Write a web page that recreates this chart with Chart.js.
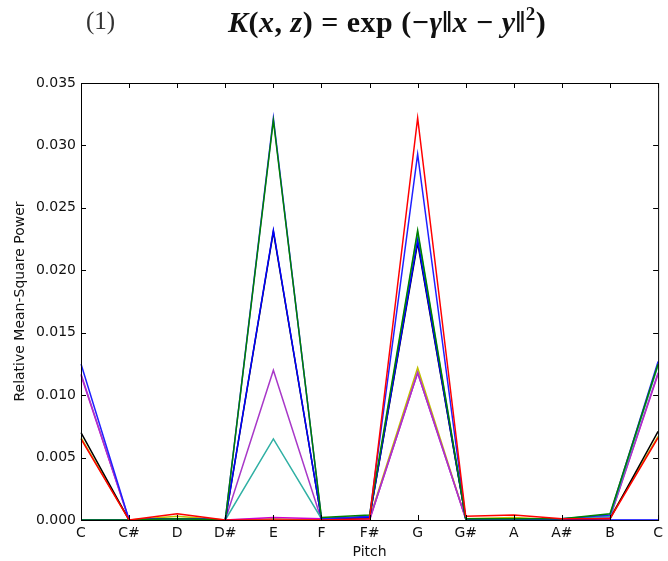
<!DOCTYPE html>
<html>
<head>
<meta charset="utf-8">
<script src="https://cdn.jsdelivr.net/npm/chart.js@4"></script>
<style>
  html, body { margin: 0; padding: 0; background: #fff; }
  #wrap { position: relative; width: 668px; height: 561px; }
  #num { position: absolute; left: 86px; top: 7px; font: 25px "Liberation Serif", serif; color: #333; }
  #formula { position: absolute; left: 228px; top: 3px; font: bold 30px "Liberation Serif", serif; color: #111; white-space: nowrap; letter-spacing: 0.5px; }
  #formula sup { font-size: 19px; vertical-align: 12px; }
</style>
</head>
<body>
<div id="wrap">
  <canvas id="line-chart" width="668" height="561"></canvas>
  <div id="num">(1)</div>
  <div id="formula"><i>K</i>(<i>x</i>, <i>z</i>) = exp (−<i>γ</i>‖<i>x</i> − <i>y</i>‖<sup>2</sup>)</div>
</div>
<script>
// pitch classes, C repeated at the octave
var pitches = ['C','C#','D','D#','E','F','F#','G','G#','A','A#','B','C'];

var redLine     = [0.0065,0,0.0005,0,0.0000,0.0000,0.0001,0.0322,0.0003,0.0004,0.0001,0.0001,0.0066];
var greenLine   = [0.0000,0,0.0001,0,0.0320,0.0002,0.0004,0.0232,0.0001,0.0001,0.0001,0.0005,0.0125];
var blueLine    = [0.0125,0,0.0001,0,0.0322,0.0001,0.0003,0.0293,0.0001,0.0001,0.0001,0.0004,0.0127];
var blue2Line   = [0.0000,0,0.0001,0,0.0232,0.0001,0.0002,0.0224,0.0001,0.0001,0.0000,0.0000,0.0000];
var blackLine   = [0.0070,0,0.0001,0,0.0231,0.0001,0.0002,0.0222,0.0001,0.0001,0.0000,0.0001,0.0071];
var cyanLine    = [0.0000,0,0.0001,0,0.0065,0.0001,0.0002,0.0230,0.0001,0.0001,0.0001,0.0003,0.0124];
var magentaLine = [0.0117,0,0.0001,0,0.0120,0.0000,0.0000,0.0118,0.0001,0.0001,0.0000,0.0002,0.0118];
var magenta2    = [0.0116,0,0.0001,0,0.0002,0.0001,0.0000,0.0118,0.0001,0.0001,0.0000,0.0002,0.0117];
var yellowLine  = [0.0066,0,0.0003,0,0.0001,0.0000,0.0001,0.0122,0.0001,0.0002,0.0000,0.0002,0.0067];

var yTicks = [0, 0.005, 0.01, 0.015, 0.02, 0.025, 0.03, 0.035];

function line(data, color) {
  return { data: data, borderColor: color, borderWidth: 1.5, pointRadius: 0, fill: false, tension: 0 };
}

// matplotlib style box with inward ticks
var boxTicks = {
  id: 'boxTicks',
  afterDraw: function(chart) {
    var ctx = chart.ctx, a = chart.chartArea;
    var x = chart.scales.x, y = chart.scales.y;
    ctx.save();
    ctx.strokeStyle = '#000';
    ctx.lineWidth = 1;
    ctx.strokeRect(a.left + 0.5, a.top + 0.5, a.right - a.left, a.bottom - a.top);
    ctx.beginPath();
    x.ticks.forEach(function(t, i) {
      var px = Math.round(x.getPixelForTick(i)) + 0.5;
      ctx.moveTo(px, a.bottom); ctx.lineTo(px, a.bottom - 5);
      ctx.moveTo(px, a.top); ctx.lineTo(px, a.top + 5);
    });
    y.ticks.forEach(function(t, i) {
      var py = Math.round(y.getPixelForTick(i)) + 0.5;
      ctx.moveTo(a.left, py); ctx.lineTo(a.left + 5, py);
      ctx.moveTo(a.right, py); ctx.lineTo(a.right - 5, py);
    });
    ctx.stroke();
    ctx.restore();
  }
};

Chart.defaults.font.family = '"DejaVu Sans", sans-serif';
Chart.defaults.color = '#111';

new Chart(document.getElementById('line-chart'), {
  type: 'line',
  data: {
    labels: pitches,
    datasets: [
      line(redLine, '#ff0000'),
      line(greenLine, '#008000'),
      line(blueLine, '#2020ff'),
      line(blue2Line, '#0000ff'),
      line(blackLine, '#000000'),
      line(cyanLine, '#30b0a4'),
      line(magentaLine, '#a838c8'),
      line(magenta2, '#d000d0'),
      line(yellowLine, '#c0c000')
    ]
  },
  options: {
    responsive: false,
    animation: false,
    layout: { padding: { top: 83, right: 5, left: 0, bottom: 0 } },
    plugins: { legend: { display: false }, tooltip: { enabled: false } },
    scales: {
      x: {
        grid: { display: false, drawTicks: false },
        border: { display: false },
        ticks: { font: { size: 14 }, padding: 5, maxRotation: 0, autoSkip: false },
        title: { display: true, text: 'Pitch', font: { size: 14 }, padding: { top: 3, bottom: 0 } },
        afterFit: function(s) { s.height = 41; }
      },
      y: {
        min: 0, max: 0.035,
        grid: { display: false, drawTicks: false },
        border: { display: false },
        afterBuildTicks: function(s) { s.ticks = yTicks.map(function(v) { return { value: v }; }); },
        ticks: { font: { size: 14 }, padding: 5, callback: function(v) { return Number(v).toFixed(3); } },
        title: { display: true, text: 'Relative Mean-Square Power', font: { size: 14 }, padding: { top: 12, bottom: 4 } },
        afterFit: function(s) { s.width = 81; }
      }
    }
  },
  plugins: [boxTicks]
});
</script>
</body>
</html>
